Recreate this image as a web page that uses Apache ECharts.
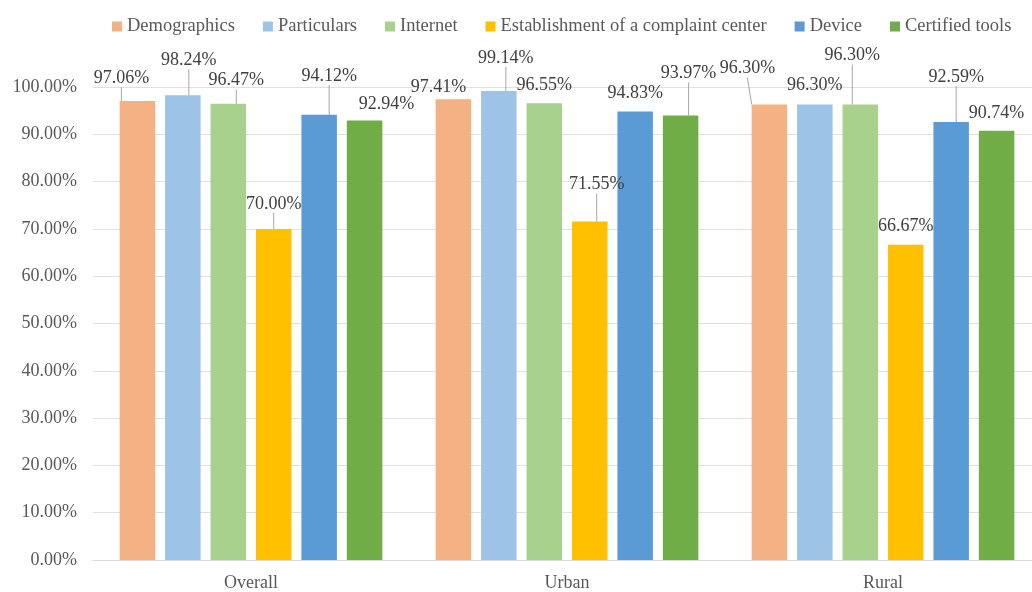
<!DOCTYPE html>
<html>
<head>
<meta charset="utf-8">
<script src="https://cdn.jsdelivr.net/npm/echarts@6/dist/echarts.min.js"></script>
<style>
  html, body { margin: 0; padding: 0; background: #fff; overflow: hidden; }
  /* plot area runs a little past the right edge, like the original */
  #chart { width: 1042px; height: 592px; }
</style>
</head>
<body>
<div id="chart"></div>
<script>
var categories = ['Overall', 'Urban', 'Rural'];
var seriesNames = ['Demographics', 'Particulars', 'Internet', 'Establishment of a complaint center', 'Device', 'Certified tools'];
var demographics = [97.06, 97.41, 96.30];
var particulars = [98.24, 99.14, 96.30];
var internet = [96.47, 96.55, 96.30];
var complaintCenter = [70.00, 71.55, 66.67];
var device = [94.12, 94.83, 92.59];
var certifiedTools = [92.94, 93.97, 90.74];
var yTicks = [0, 10, 20, 30, 40, 50, 60, 70, 80, 90, 100];

(function() {
  var colors = ['#F4B183', '#9DC3E6', '#A9D18E', '#FFC000', '#5B9BD5', '#70AD47'];
  var values = [demographics, particulars, internet, complaintCenter, device, certifiedTools];

  // label callouts, moved like the Excel ones: [dx, dy] per category
  var labelShift = [
    [[-16, -9], [-15, 2], [-22, -22]],
    [[6, -21], [7, -19], [0, -5]],
    [[8, -9], [0, -4], [-8, -35]],
    [[0, -11], [7, -23], [0, -4]],
    [[10, -25], [0, -4], [5, -31]],
    [[22, -2], [8, -28], [0, -4]]
  ];
  var leader = [
    [true, false, true],
    [true, true, false],
    [true, false, true],
    [true, true, false],
    [true, false, true],
    [false, true, false]
  ];

  var font = 'Liberation Serif';
  var chart = echarts.init(document.getElementById('chart'), null, { renderer: 'canvas' });

  var series = seriesNames.map(function(name, i) {
    return {
      name: name,
      type: 'bar',
      barWidth: 35.5,
      barGap: '28%',
      itemStyle: { color: colors[i] },
      label: {
        show: true,
        position: 'top',
        color: '#404040',
        fontFamily: font,
        fontSize: 18,
        formatter: function(p) { return p.value.toFixed(2) + '%'; }
      },
      labelLine: { show: true, lineStyle: { color: '#a6a6a6', width: 1 } },
      labelLayout: function(p) {
        var s = labelShift[i][p.dataIndex];
        return { dx: s[0], dy: s[1] };
      },
      data: values[i].map(function(v, j) {
        return { value: v, labelLine: { show: leader[i][j] } };
      })
    };
  });

  chart.setOption({
    animation: false,
    color: colors,
    legend: {
      top: 12,
      left: 107,
      icon: 'rect',
      itemWidth: 10,
      itemHeight: 10,
      itemGap: 28,
      textStyle: { color: '#595959', fontFamily: font, fontSize: 18.5 },
      data: seriesNames
    },
    grid: { left: 93, top: 87, right: 1, height: 473, containLabel: false },
    xAxis: {
      type: 'category',
      data: categories,
      axisTick: { show: false },
      axisLine: { lineStyle: { color: '#d9d9d9' } },
      axisLabel: { color: '#595959', fontFamily: font, fontSize: 18, margin: 14 }
    },
    yAxis: {
      type: 'value',
      min: yTicks[0],
      max: yTicks[yTicks.length - 1],
      interval: 10,
      axisLine: { show: false },
      axisTick: { show: false },
      splitLine: { lineStyle: { color: '#e0e0e0' } },
      axisLabel: {
        color: '#595959', fontFamily: font, fontSize: 18, margin: 16,
        formatter: function(v) { return v.toFixed(2) + '%'; }
      }
    },
    series: series
  });
})();
</script>
</body>
</html>
